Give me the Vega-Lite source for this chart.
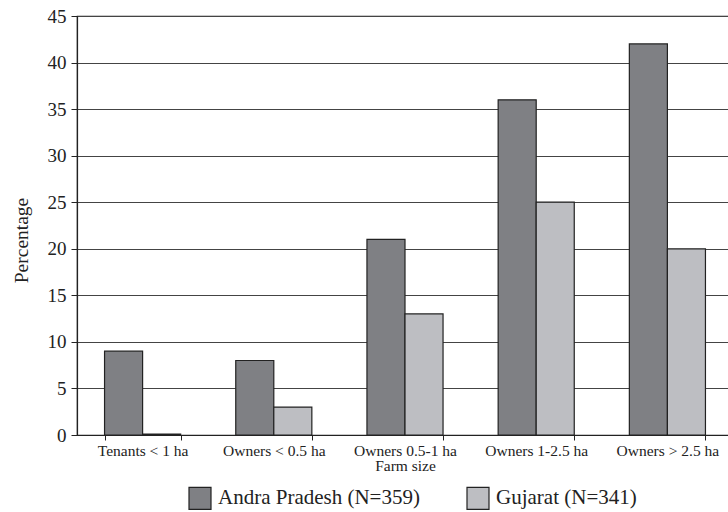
{
  "$schema": "https://vega.github.io/schema/vega-lite/v6.json",
  "autosize": {"type": "none"},
  "padding": {"left": 77, "top": 16, "right": 0, "bottom": 77},
  "width": 656,
  "height": 419,
  "background": "white",
  "config": {
    "font": "Liberation Serif, Times New Roman, serif",
    "axis": {"labelFont": "Liberation Serif, Times New Roman, serif", "titleFont": "Liberation Serif, Times New Roman, serif"},
    "legend": {"labelFont": "Liberation Serif, Times New Roman, serif"},
    "view": {"stroke": "#222", "strokeWidth": 1.2}
  },
  "data": {
    "values": [
      {"size": "Tenants < 1 ha", "state": "Andra Pradesh (N=359)", "pct": 9},
      {"size": "Tenants < 1 ha", "state": "Gujarat (N=341)", "pct": 0.1},
      {"size": "Owners < 0.5 ha", "state": "Andra Pradesh (N=359)", "pct": 8},
      {"size": "Owners < 0.5 ha", "state": "Gujarat (N=341)", "pct": 3},
      {"size": "Owners  0.5-1 ha", "state": "Andra Pradesh (N=359)", "pct": 21},
      {"size": "Owners  0.5-1 ha", "state": "Gujarat (N=341)", "pct": 13},
      {"size": "Owners 1-2.5 ha", "state": "Andra Pradesh (N=359)", "pct": 36},
      {"size": "Owners 1-2.5 ha", "state": "Gujarat (N=341)", "pct": 25},
      {"size": "Owners > 2.5 ha", "state": "Andra Pradesh (N=359)", "pct": 42},
      {"size": "Owners > 2.5 ha", "state": "Gujarat (N=341)", "pct": 20}
    ]
  },
  "mark": {"type": "bar", "stroke": "#222", "strokeWidth": 1.2},
  "encoding": {
    "x": {
      "field": "size",
      "type": "nominal",
      "sort": null,
      "scale": {"paddingInner": 0.42, "paddingOuter": 0.21},
      "axis": {
        "title": "Farm size",
        "titleFontSize": 15.5,
        "titleFontWeight": "normal",
        "titleColor": "#222",
        "titlePadding": 0,
        "labelAngle": 0,
        "labelFontSize": 15.5,
        "labelColor": "#222",
        "labelPadding": 3,
        "labelLimit": 200,
        "tickBand": "extent",
        "tickSize": 5,
        "tickColor": "#222",
        "domainColor": "#222",
        "domainWidth": 1.2,
        "grid": false
      }
    },
    "xOffset": {"field": "state", "type": "nominal", "scale": {"paddingInner": 0, "paddingOuter": 0}},
    "y": {
      "field": "pct",
      "type": "quantitative",
      "scale": {"domain": [0, 45], "nice": false},
      "axis": {
        "title": "Percentage",
        "titleFontSize": 19.5,
        "titleFontWeight": "normal",
        "titleColor": "#222",
        "titlePadding": 16,
        "titleY": 224,
        "values": [0, 5, 10, 15, 20, 25, 30, 35, 40, 45],
        "labelFontSize": 19,
        "labelColor": "#222",
        "labelPadding": 5,
        "tickSize": 6,
        "tickColor": "#222",
        "domainColor": "#222",
        "domainWidth": 1.2,
        "grid": true,
        "gridColor": "#444",
        "gridWidth": 1
      }
    },
    "fill": {
      "field": "state",
      "type": "nominal",
      "scale": {"range": ["#7f8084", "#bdbec2"]},
      "legend": {
        "title": null,
        "orient": "none",
        "legendX": 111,
        "legendY": 470,
        "direction": "horizontal",
        "symbolType": "square",
        "symbolSize": 484,
        "symbolStrokeColor": "#222",
        "symbolStrokeWidth": 1.2,
        "labelFontSize": 21,
        "labelColor": "#222",
        "labelLimit": 400,
        "labelOffset": 6,
        "columnPadding": 44
      }
    }
  }
}
